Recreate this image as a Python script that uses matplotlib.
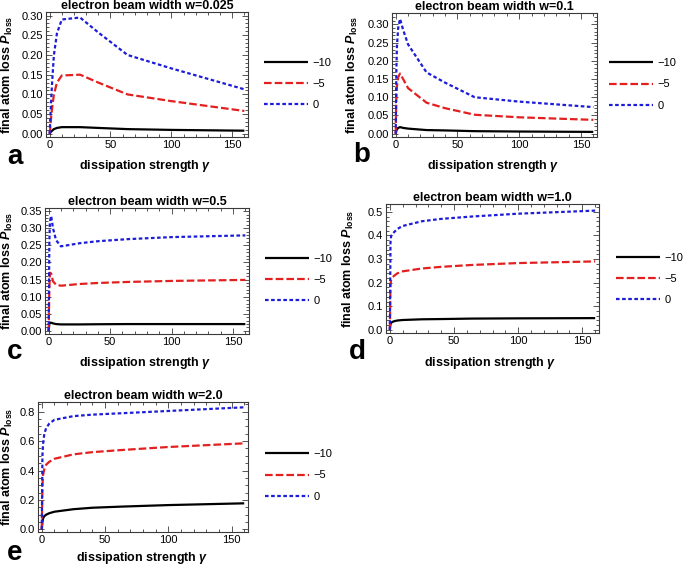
import matplotlib
matplotlib.use('Agg')
import matplotlib.pyplot as plt
from matplotlib.ticker import MultipleLocator, FormatStrFormatter

W, H = 685, 567
plt.rcParams['font.family'] = ['Liberation Sans', 'DejaVu Sans']
plt.rcParams['mathtext.fontset'] = 'custom'
plt.rcParams['mathtext.rm'] = 'Liberation Sans:bold'
plt.rcParams['mathtext.it'] = 'Liberation Sans:italic:bold'
plt.rcParams['mathtext.bf'] = 'Liberation Sans:bold'
plt.rcParams['lines.scale_dashes'] = False

# ---------------- data ----------------
gamma = [0, 0.5, 1, 2, 3.5, 6, 10, 25, 40, 64, 100, 160]
series_labels = ['−10', '−5', '0']
widths = ['0.025', '0.1', '0.5', '1.0', '2.0']
panel_letters = ['a', 'b', 'c', 'd', 'e']

a_m10 = [0, 0.003, 0.005, 0.008, 0.012, 0.015, 0.017, 0.017, 0.015, 0.012, 0.010, 0.008]
a_m5 = [0, 0.015, 0.035, 0.065, 0.100, 0.130, 0.148, 0.150, 0.130, 0.100, 0.083, 0.058]
a_0 = [0, 0.035, 0.070, 0.130, 0.200, 0.255, 0.290, 0.295, 0.257, 0.200, 0.166, 0.113]

b_m10 = [0, 0.008, 0.012, 0.016, 0.018, 0.016, 0.014, 0.010, 0.009, 0.007, 0.006, 0.005]
b_m5 = [0, 0.100, 0.130, 0.155, 0.165, 0.150, 0.125, 0.085, 0.070, 0.052, 0.045, 0.038]
b_0 = [0, 0.170, 0.240, 0.290, 0.315, 0.285, 0.245, 0.168, 0.140, 0.100, 0.088, 0.073]

c_m10 = [0, 0.020, 0.024, 0.024, 0.022, 0.020, 0.019, 0.019, 0.0195, 0.020, 0.020, 0.020]
c_m5 = [0, 0.120, 0.170, 0.168, 0.145, 0.135, 0.132, 0.137, 0.140, 0.143, 0.146, 0.149]
c_0 = [0, 0.250, 0.320, 0.336, 0.300, 0.265, 0.247, 0.256, 0.262, 0.268, 0.274, 0.279]

d_m10 = [0, 0.025, 0.030, 0.034, 0.037, 0.040, 0.042, 0.045, 0.046, 0.048, 0.049, 0.050]
d_m5 = [0, 0.190, 0.212, 0.222, 0.230, 0.240, 0.248, 0.260, 0.267, 0.275, 0.283, 0.290]
d_0 = [0, 0.370, 0.398, 0.405, 0.415, 0.428, 0.440, 0.460, 0.470, 0.480, 0.492, 0.505]

e_m10 = [0, 0.050, 0.075, 0.090, 0.100, 0.110, 0.120, 0.137, 0.147, 0.155, 0.165, 0.177]
e_m5 = [0, 0.300, 0.370, 0.410, 0.440, 0.460, 0.480, 0.510, 0.525, 0.540, 0.560, 0.585]
e_0 = [0, 0.500, 0.580, 0.650, 0.690, 0.720, 0.745, 0.770, 0.780, 0.790, 0.805, 0.830]

panel_data = [(a_m10, a_m5, a_0), (b_m10, b_m5, b_0), (c_m10, c_m5, c_0),
              (d_m10, d_m5, d_0), (e_m10, e_m5, e_0)]

# ---------------- layout (pixel boxes: left, right, top, bottom) ----------------
boxes = [(46, 248, 12, 137), (392, 597, 13, 137), (45, 249, 208, 334),
         (386, 599, 204, 333), (38, 248, 402, 532)]
ylims = [(-0.008, 0.309), (-0.009, 0.331), (-0.009, 0.359), (-0.013, 0.533), (-0.018, 0.866)]
ymajor = [0.05, 0.05, 0.05, 0.1, 0.2]
yminor = [0.01, 0.01, 0.01, 0.02, 0.05]
yfmt = ['%.2f', '%.2f', '%.2f', '%.1f', '%.1f']
ylabel_x = [7, 352, 7, 348, 7]
xlabel_pos = [(145, 166), (493, 166), (145, 363), (490, 363), (142, 558)]
letter_pos = [(15, 157), (362, 155), (15, 352), (357, 352), (15, 553)]
legend_pos = [(264, 84), (609, 84.5), (265, 280), (616, 279), (265, 475.5)]

colors = ['black', '#e3201f', '#1c1cd9']
styles = ['-', (0, (5.5, 2.2)), (0, (2.6, 1.8))]
frame_col = '#3a3a3a'

fig = plt.figure(figsize=(W / 100, H / 100), dpi=100)

def fx(px):
    return px / W

def fy(py):
    return 1 - py / H

for i in range(5):
    l, r, t, b = boxes[i]
    ax = fig.add_axes([fx(l), fy(b), fx(r) - fx(l), fy(t) - fy(b)])
    for j in range(3):
        ax.plot(gamma, panel_data[i][j], color=colors[j], linestyle=styles[j],
                lw=1.6, label=series_labels[j], solid_capstyle='butt',
                dash_capstyle='butt')
    ax.set_xlim(-3, 163)
    ax.set_ylim(*ylims[i])
    ax.xaxis.set_major_locator(MultipleLocator(50))
    ax.xaxis.set_minor_locator(MultipleLocator(10))
    ax.yaxis.set_major_locator(MultipleLocator(ymajor[i]))
    ax.yaxis.set_minor_locator(MultipleLocator(yminor[i]))
    ax.yaxis.set_major_formatter(FormatStrFormatter(yfmt[i]))
    ax.tick_params(which='both', direction='in', top=True, right=True,
                   color=frame_col, width=0.6, labelsize=8, pad=2)
    ax.tick_params(which='major', length=4)
    ax.tick_params(which='minor', length=2)
    for s in ax.spines.values():
        s.set_color(frame_col)
        s.set_linewidth(0.8)
    ax.set_title('electron beam width w=' + widths[i], fontsize=9,
                 fontweight='bold', pad=2)
    # y label
    fig.text(fx(ylabel_x[i]), fy((t + b) / 2), r'final atom loss $P_{\mathrm{loss}}$',
             rotation=90, ha='center', va='center', fontsize=9, fontweight='bold')
    # x label
    fig.text(fx(xlabel_pos[i][0]), fy(xlabel_pos[i][1]), r'dissipation strength $\gamma$',
             ha='center', va='center', fontsize=9, fontweight='bold')
    # panel letter
    fig.text(fx(letter_pos[i][0]), fy(letter_pos[i][1]), panel_letters[i],
             ha='center', va='center', fontsize=20, fontweight='bold')
    # legend
    lx, ly = legend_pos[i]
    ax.legend(loc='center left', bbox_to_anchor=(fx(lx), fy(ly)),
              bbox_transform=fig.transFigure, frameon=False, fontsize=8,
              handlelength=4.0, handletextpad=0.35, labelspacing=1.0,
              borderpad=0, borderaxespad=0)

fig.savefig('out.png', dpi=100)
